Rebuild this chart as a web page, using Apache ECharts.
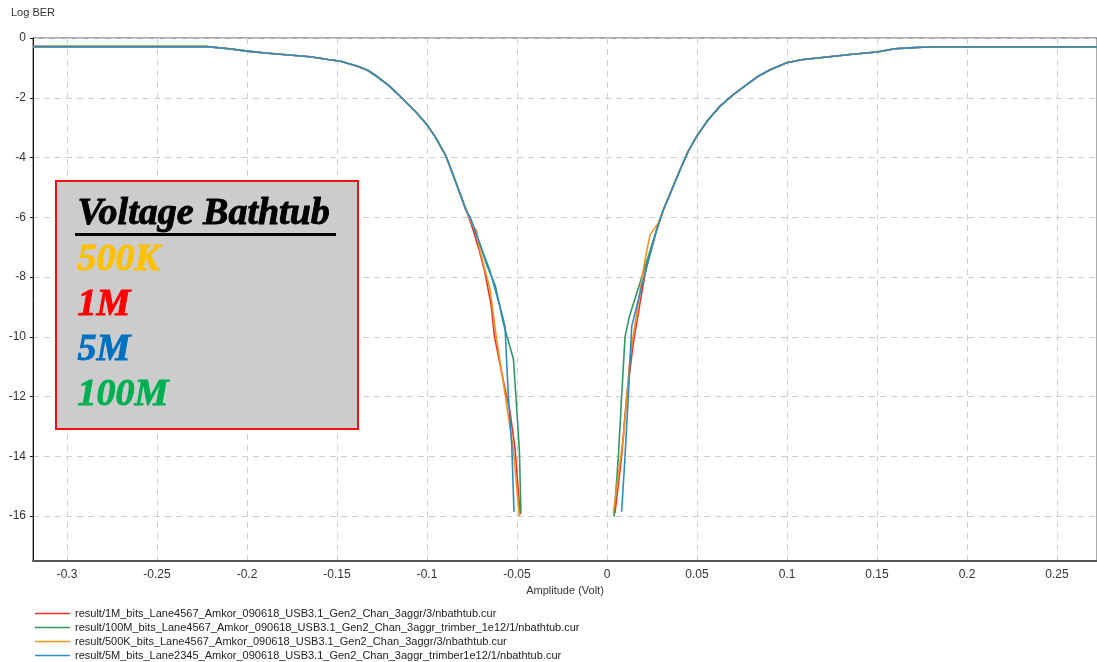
<!DOCTYPE html>
<html>
<head>
<meta charset="utf-8">
<script src="https://cdn.jsdelivr.net/npm/echarts@6/dist/echarts.min.js"></script>
<style>
html,body{margin:0;padding:0;background:#fff;}
#chart{width:1097px;height:662px;}
</style>
</head>
<body>
<div id="chart"></div>
<script>
// ---- data ----
const seriesNames = [
  'result/1M_bits_Lane4567_Amkor_090618_USB3.1_Gen2_Chan_3aggr/3/nbathtub.cur',
  'result/100M_bits_Lane4567_Amkor_090618_USB3.1_Gen2_Chan_3aggr_trimber_1e12/1/nbathtub.cur',
  'result/500K_bits_Lane4567_Amkor_090618_USB3.1_Gen2_Chan_3aggr/3/nbathtub.cur',
  'result/5M_bits_Lane2345_Amkor_090618_USB3.1_Gen2_Chan_3aggr_trimber1e12/1/nbathtub.cur'
];
const xTicks = [-0.3, -0.25, -0.2, -0.15, -0.1, -0.05, 0, 0.05, 0.1, 0.15, 0.2, 0.25];
const yTicks = [0, -2, -4, -6, -8, -10, -12, -14, -16];

// shared upper part of the left wall
const leftUpper = [[-0.3189,-0.29],[-0.28,-0.29],[-0.24,-0.29],[-0.2222,-0.29],[-0.21,-0.36],[-0.2,-0.44],[-0.19,-0.5],[-0.18,-0.55],[-0.165,-0.63],[-0.155,-0.72],[-0.148,-0.78],[-0.139,-0.94],[-0.133,-1.08],[-0.128,-1.28],[-0.121,-1.6],[-0.115,-1.95],[-0.11,-2.25],[-0.1057,-2.51],[-0.1,-2.9],[-0.095,-3.35],[-0.0895,-3.95],[-0.0854,-4.6],[-0.0817,-5.2]];
// shared upper part of the right wall
const rightUpper = [[0.0313,-5.75],[0.0406,-4.41],[0.045,-3.8],[0.0498,-3.29],[0.056,-2.75],[0.0628,-2.28],[0.07,-1.9],[0.0776,-1.56],[0.084,-1.28],[0.0906,-1.06],[0.0998,-0.83],[0.108,-0.73],[0.1183,-0.66],[0.135,-0.55],[0.15,-0.47],[0.16,-0.36],[0.168,-0.33],[0.175,-0.31],[0.18,-0.3],[0.2722,-0.3]];

// lower parts per series
const left1M   = [[-0.0785,-5.7],[-0.0745,-6.4],[-0.071,-7.1],[-0.068,-7.8],[-0.0645,-8.9],[-0.0625,-10.0],[-0.0575,-11.5],[-0.0539,-12.5],[-0.051,-13.8],[-0.0483,-15.95]];
const right1M  = [[0.0044,-15.9],[0.0081,-14.0],[0.0109,-12.0],[0.0146,-10.21],[0.0183,-8.87],[0.022,-7.6],[0.0276,-6.4]];
const left100M = [[-0.0785,-5.75],[-0.0761,-6.0],[-0.0706,-6.9],[-0.0668,-7.6],[-0.062,-8.3],[-0.0576,-9.54],[-0.052,-10.75],[-0.0506,-12.0],[-0.0487,-13.8],[-0.0478,-15.9]];
const right100M = [[0.0039,-16.02],[0.0063,-14.0],[0.0081,-12.0],[0.01,-10.0],[0.0125,-9.3],[0.0183,-8.2],[0.0245,-7.0],[0.0294,-6.08]];
const left500K = [[-0.0785,-5.7],[-0.0745,-6.3],[-0.0724,-6.45],[-0.071,-7.0],[-0.0685,-7.6],[-0.065,-8.4],[-0.0613,-10.1],[-0.0567,-11.9],[-0.052,-13.8],[-0.0487,-16.0]];
const right500K = [[0.0035,-15.9],[0.0091,-13.34],[0.0128,-10.66],[0.0193,-8.09],[0.0211,-7.42],[0.0239,-6.58],[0.0285,-6.19]];
const left5M   = [[-0.0785,-5.75],[-0.0761,-6.0],[-0.0706,-6.9],[-0.065,-7.8],[-0.0613,-8.6],[-0.0585,-9.2],[-0.0567,-9.65],[-0.0557,-10.88],[-0.0548,-12.0],[-0.0529,-13.67],[-0.0517,-15.85]];
const right5M  = [[0.0081,-15.85],[0.01,-14.0],[0.0118,-12.0],[0.0137,-9.65],[0.0202,-8.09],[0.0276,-6.42]];

const lowerLeft = [left1M, left100M, left500K, left5M];
const lowerRight = [right1M, right100M, right500K, right5M];
const colors = ['#e8352b', '#2e9a62', '#f0921f', '#2b8dc3'];

function buildSeries(i) {
  return leftUpper.concat(lowerLeft[i], [['-', '-']], lowerRight[i], rightUpper);
}

const chart = echarts.init(document.getElementById('chart'), null, {renderer: 'canvas'});
const font = "'Liberation Sans', Arial, sans-serif";
const serif = "'Liberation Serif', 'Times New Roman', serif";
function boxText(txt, top, color) {
  return {type: 'text', left: 77, top: top, z: 101,
    style: {text: txt, fill: color, stroke: color, lineWidth: 0.9,
      fontFamily: serif, fontStyle: 'italic', fontWeight: 'bold', fontSize: 38}};
}
const option = {
  backgroundColor: '#fff',
  animation: false,
  grid: {left: 33, right: -3, top: 38, bottom: 101, show: true, borderColor: '#555', borderWidth: 1, backgroundColor: 'transparent'},
  legend: {
    orient: 'vertical', left: 30, top: 602, height: 80, itemGap: 1, itemWidth: 35, itemHeight: 1.5, icon: 'rect',
    textStyle: {fontFamily: font, fontSize: 11, color: '#222', lineHeight: 13},
    data: seriesNames
  },
  xAxis: {
    type: 'value', min: -0.3189, max: 0.2722,
    name: 'Amplitude (Volt)', nameLocation: 'middle', nameGap: 20,
    nameTextStyle: {fontFamily: font, fontSize: 11, color: '#333'},
    axisLine: {show: true, onZero: false, lineStyle: {color: '#555', width: 2}},
    axisTick: {show: false, customValues: xTicks},
    axisLabel: {customValues: xTicks, fontFamily: font, fontSize: 12, color: '#333', margin: 8,
      formatter: v => String(Math.round(v * 100) / 100)},
    splitLine: {show: true, lineStyle: {color: '#cfcfcf', type: [6, 5], width: 1}}
  },
  yAxis: {
    type: 'value', min: -17.5, max: 0,
    name: 'Log BER', nameLocation: 'end', nameGap: 20,
    nameTextStyle: {fontFamily: font, fontSize: 11, color: '#333', align: 'center'},
    axisLine: {show: true, onZero: false, lineStyle: {color: '#111', width: 1}},
    axisTick: {show: true, length: 3, customValues: yTicks, lineStyle: {color: '#111'}},
    axisLabel: {customValues: yTicks, fontFamily: font, fontSize: 12, color: '#333', margin: 7},
    splitLine: {show: true, lineStyle: {color: '#cfcfcf', type: [6, 5], width: 1}}
  },
  series: seriesNames.map((n, i) => ({
    name: n, type: 'line', data: buildSeries(i), showSymbol: false, symbol: 'none',
    connectNulls: false, color: colors[i], lineStyle: {width: 1.6, color: colors[i]}
  })),
  graphic: [
    {type: 'rect', left: 55, top: 180, shape: {width: 302, height: 248}, style: {fill: '#cccccc', stroke: '#ee1111', lineWidth: 2}, z: 100},
    boxText('Voltage Bathtub', 195, '#000'),
    {type: 'rect', left: 75, top: 233, shape: {width: 261, height: 3}, style: {fill: '#000'}, z: 101},
    boxText('500K', 241, '#ffc000'),
    boxText('1M', 286, '#ff0000'),
    boxText('5M', 331, '#0070c0'),
    boxText('100M', 376, '#00b050')
  ]
};
chart.setOption(option);
</script>
</body>
</html>
